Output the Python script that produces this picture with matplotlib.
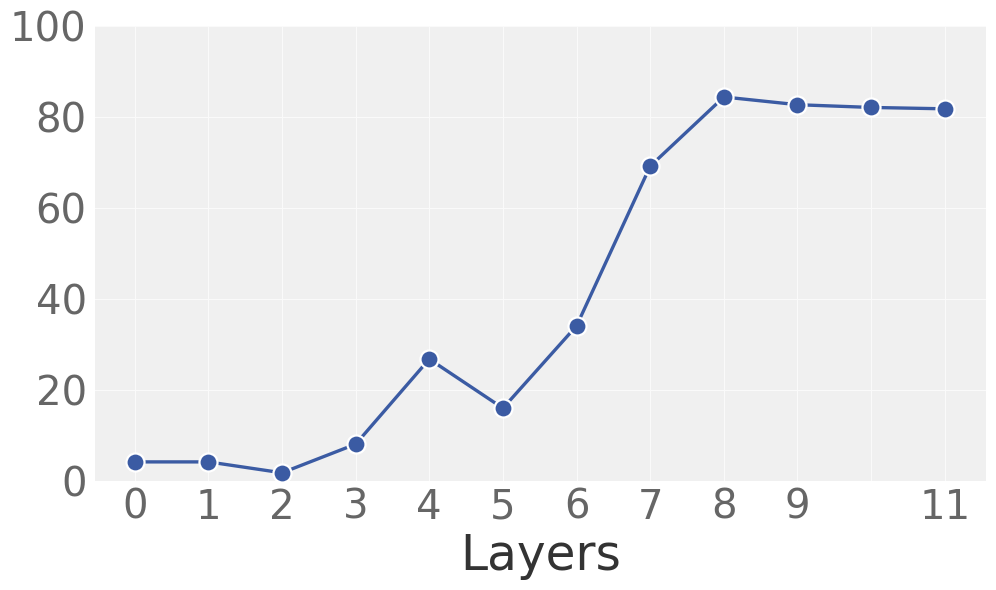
import matplotlib
matplotlib.use("Agg")
import matplotlib.pyplot as plt

layers = [0, 1, 2, 3, 4, 5, 6, 7, 8, 9, 10, 11]
values = [4.2, 4.2, 1.8, 8.1, 26.8, 16.0, 34.1, 69.2, 84.4, 82.7, 82.1, 81.8]
xtick_pos = [0, 1, 2, 3, 4, 5, 6, 7, 8, 9, 11]
ytick_pos = [0, 20, 40, 60, 80, 100]

fig = plt.figure(figsize=(9.96, 5.9), dpi=100)
ax = fig.add_axes([95 / 996, 1 - 481 / 590, (986 - 95) / 996, (481 - 26) / 590])
ax.set_facecolor("#f0f0f0")

ax.plot(layers, values, color="#3b5ba3", linewidth=2.4, marker="o",
        markersize=13, markerfacecolor="#3b5ba3", markeredgecolor="white",
        markeredgewidth=1.6, zorder=3)

ax.set_xlim(-0.54, 11.56)
ax.set_ylim(0, 100)
ax.set_xticks(layers, minor=True)
ax.set_xticks(xtick_pos)
ax.set_yticks(ytick_pos)
ax.grid(True, which="both", color="#fafafa", linewidth=0.8)
ax.set_axisbelow(True)
ax.tick_params(axis="both", which="both", length=0, labelsize=29,
               labelcolor="#666666")
ax.tick_params(axis="x", pad=5)
ax.tick_params(axis="y", pad=6)
for s in ax.spines.values():
    s.set_visible(False)

ax.set_xlabel("Layers", fontsize=35, color="#333333", labelpad=3)

fig.savefig("out.png", dpi=100)
